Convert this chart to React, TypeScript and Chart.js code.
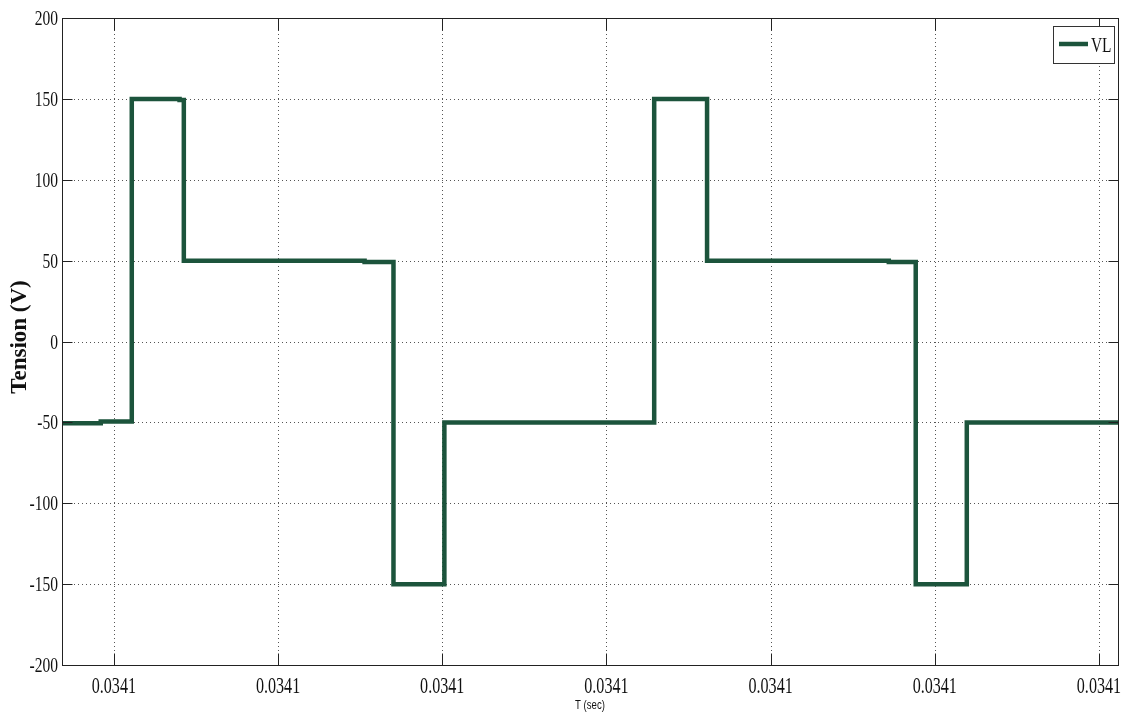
import React, { useEffect, useRef } from "react";
import { Chart, registerables } from "chart.js";

Chart.register(...registerables);

// Time axis in microseconds (relative to tick positions), voltage in volts
const timeUs = [-0.316, -0.08, -0.08, 0.109, 0.109, 0.40, 0.40, 0.426, 0.426, 1.527, 1.527, 1.703, 1.703, 2.013, 2.013, 3.291, 3.291, 3.613, 3.613, 4.72, 4.72, 4.884, 4.884, 5.195, 5.195, 6.116];
const tensionV = [-50.5, -50.5, -49.5, -49.5, 150, 150, 149.3, 149.3, 50, 50, 49.2, 49.2, -150, -150, -50, -50, 150, 150, 50, 50, 49.2, 49.2, -150, -150, -50, -50];
const xTickValues = [0, 1, 2, 3, 4, 5, 6];
const xTickLabels = ["0.0341", "0.0341", "0.0341", "0.0341", "0.0341", "0.0341", "0.0341"];
const yTickValues = [-200, -150, -100, -50, 0, 50, 100, 150, 200];
const X_MIN = -0.316;
const X_MAX = 6.116;
const seriesName = "VL";
const lineColor = "#1c543c";

function drawScaledText(ctx: CanvasRenderingContext2D, text: string, x: number, y: number, sx: number, align: CanvasTextAlign) {
  ctx.save();
  ctx.translate(x, y);
  ctx.scale(sx, 1);
  ctx.textAlign = align;
  ctx.fillText(text, 0, 0);
  ctx.restore();
}

const framePlugin = {
  id: "matlabFrame",
  beforeDatasetsDraw(chart: any) {
    const { ctx, chartArea } = chart;
    const xs = chart.scales.x;
    const ys = chart.scales.y;
    ctx.save();
    ctx.strokeStyle = "#555";
    ctx.lineWidth = 1;
    ctx.setLineDash([1, 3]);
    xTickValues.forEach((v) => {
      const px = Math.round(xs.getPixelForValue(v)) + 0.5;
      ctx.beginPath();
      ctx.moveTo(px, chartArea.top);
      ctx.lineTo(px, chartArea.bottom);
      ctx.stroke();
    });
    yTickValues.forEach((v) => {
      if (v === -200 || v === 200) return;
      const py = Math.round(ys.getPixelForValue(v)) + 0.5;
      ctx.beginPath();
      ctx.moveTo(chartArea.left, py);
      ctx.lineTo(chartArea.right, py);
      ctx.stroke();
    });
    ctx.restore();
  },
  afterDatasetsDraw(chart: any) {
    const { ctx, chartArea } = chart;
    const xs = chart.scales.x;
    const ys = chart.scales.y;
    const L = Math.round(chartArea.left) + 0.5;
    const R = Math.round(chartArea.right) + 0.5;
    const T = Math.round(chartArea.top) + 0.5;
    const B = Math.round(chartArea.bottom) + 0.5;
    ctx.save();
    ctx.setLineDash([]);
    ctx.strokeStyle = "#222";
    ctx.lineWidth = 1;
    ctx.strokeRect(L, T, R - L, B - T);
    // ticks (inside)
    ctx.beginPath();
    xTickValues.forEach((v) => {
      const px = Math.round(xs.getPixelForValue(v)) + 0.5;
      ctx.moveTo(px, B);
      ctx.lineTo(px, B - 12);
      ctx.moveTo(px, T);
      ctx.lineTo(px, T + 12);
    });
    yTickValues.forEach((v) => {
      const py = Math.round(ys.getPixelForValue(v)) + 0.5;
      ctx.moveTo(L, py);
      ctx.lineTo(L + 10, py);
      ctx.moveTo(R, py);
      ctx.lineTo(R - 10, py);
    });
    ctx.stroke();

    // tick labels
    ctx.fillStyle = "#111";
    ctx.textBaseline = "alphabetic";
    ctx.font = "23px 'Liberation Serif'";
    xTickValues.forEach((v, i) => {
      const px = xs.getPixelForValue(v);
      drawScaledText(ctx, xTickLabels[i], px, 693, 0.7, "center");
    });
    ctx.font = "21px 'Liberation Serif'";
    yTickValues.forEach((v) => {
      const py = ys.getPixelForValue(v);
      drawScaledText(ctx, String(v), 58, py + 7, 0.74, "right");
    });

    // axis titles
    ctx.font = "12px 'Liberation Sans'";
    drawScaledText(ctx, "T (sec)", 590, 709, 0.8, "center");
    ctx.save();
    ctx.translate(26, 337);
    ctx.rotate(-Math.PI / 2);
    ctx.font = "bold 23px 'Liberation Serif'";
    ctx.textAlign = "center";
    ctx.fillText("Tension (V)", 0, 0);
    ctx.restore();

    // legend
    const lx = 1053.5, ly = 26.5, lw = 61, lh = 37;
    ctx.fillStyle = "#fff";
    ctx.fillRect(lx, ly, lw, lh);
    ctx.strokeStyle = "#333";
    ctx.lineWidth = 1;
    ctx.strokeRect(lx, ly, lw, lh);
    ctx.strokeStyle = lineColor;
    ctx.lineWidth = 4.5;
    ctx.beginPath();
    ctx.moveTo(1059, 44);
    ctx.lineTo(1088, 44);
    ctx.stroke();
    ctx.fillStyle = "#111";
    ctx.font = "22px 'Liberation Serif'";
    drawScaledText(ctx, seriesName, 1091, 52, 0.7, "left");
    ctx.restore();
  },
};

export default function App() {
  const ref = useRef<HTMLCanvasElement | null>(null);
  useEffect(() => {
    if (!ref.current) return;
    const chart = new Chart(ref.current, {
      type: "line",
      data: {
        datasets: [
          {
            label: seriesName,
            data: timeUs.map((t, i) => ({ x: t, y: tensionV[i] })),
            borderColor: lineColor,
            borderWidth: 4.5,
            pointRadius: 0,
            fill: false,
            tension: 0,
            borderJoinStyle: "miter",
          },
        ],
      },
      options: {
        animation: false,
        responsive: false,
        maintainAspectRatio: false,
        layout: { padding: { left: 62, top: 18, right: 15, bottom: 56 } },
        plugins: { legend: { display: false }, tooltip: { enabled: false } },
        scales: {
          x: { type: "linear", min: X_MIN, max: X_MAX, display: false },
          y: { type: "linear", min: -200, max: 200, display: false },
        },
      },
      plugins: [framePlugin],
    });
    return () => chart.destroy();
  }, []);
  return (
    <div style={{ position: "fixed", left: 0, top: 0, width: 1133, height: 721, background: "#fff" }}>
      <canvas ref={ref} width={1133} height={721} style={{ width: 1133, height: 721 }} />
    </div>
  );
}
